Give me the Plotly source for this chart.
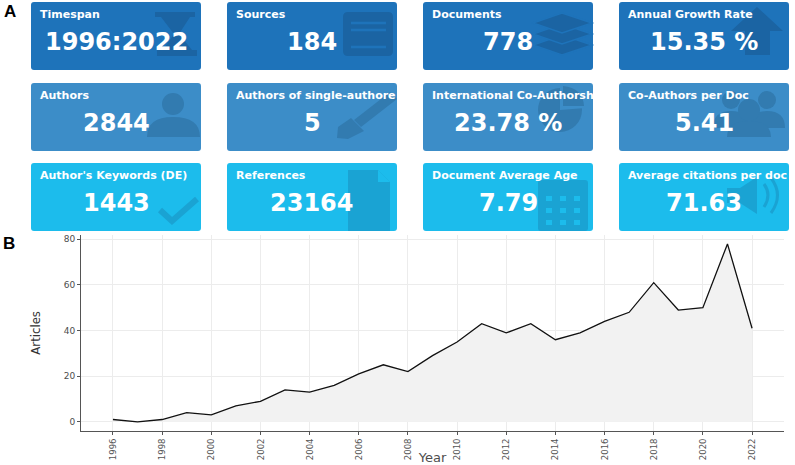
import plotly.graph_objects as go

# ---------------- data ----------------
card_titles = [
    "Timespan", "Sources", "Documents", "Annual Growth Rate",
    "Authors", "Authors of single-authore", "International Co-Authorsh", "Co-Authors per Doc",
    "Author's Keywords (DE)", "References", "Document Average Age", "Average citations per doc",
]
card_values = [
    "1996:2022", "184", "778", "15.35 %",
    "2844", "5", "23.78 %", "5.41",
    "1443", "23164", "7.79", "71.63",
]
years = list(range(1996, 2023))
articles = [1, 0, 1, 4, 3, 7, 9, 14, 13, 16, 21, 25, 22, 29, 35, 43, 39, 43, 36, 39, 44, 48, 61, 49, 50, 78, 41]
year_ticks = list(range(1996, 2023, 2))
article_ticks = [0, 20, 40, 60, 80]

# ---------------- layout helpers ----------------
W, H = 795, 465
def px(x):
    return x / W
def py(y):
    return 1 - y / H
def pt(x, y):
    return f"{px(x):.5f},{py(y):.5f}"
def poly(points):
    return "M" + " L".join(pt(x, y) for x, y in points) + " Z"

row_colors = ["#1e73ba", "#3c8dc8", "#1cbcec"]
icon_colors = ["#1b64a3", "#327bb0", "#1aa3d3"]
col_x = [31, 227, 423, 619]
row_y = [2, 83, 163]
card_w, card_h = 170, 68

shapes = []
annotations = []

def rounded(x0, y0, x1, y1, r=3):
    return ("M" + pt(x0 + r, y0) + " L" + pt(x1 - r, y0) + " Q" + pt(x1, y0) + " " + pt(x1, y0 + r)
            + " L" + pt(x1, y1 - r) + " Q" + pt(x1, y1) + " " + pt(x1 - r, y1)
            + " L" + pt(x0 + r, y1) + " Q" + pt(x0, y1) + " " + pt(x0, y1 - r)
            + " L" + pt(x0, y0 + r) + " Q" + pt(x0, y0) + " " + pt(x0 + r, y0) + " Z")

def add_path(path, color, line=None, lw=0):
    shapes.append(dict(type="path", xref="paper", yref="paper", path=path, fillcolor=color,
                       line=dict(color=line if line else color, width=lw), layer="below"))

def add_circle(cx, cy, r, color):
    shapes.append(dict(type="circle", xref="paper", yref="paper",
                       x0=px(cx - r), x1=px(cx + r), y0=py(cy + r), y1=py(cy - r),
                       fillcolor=color, line=dict(width=0), layer="below"))

def add_line_path(points, color, width):
    shapes.append(dict(type="path", xref="paper", yref="paper",
                       path="M" + " L".join(pt(x, y) for x, y in points),
                       line=dict(color=color, width=width), layer="below"))

# cards
for i in range(12):
    r, c = divmod(i, 4)
    x0, y0 = col_x[c], row_y[r]
    add_path(rounded(x0, y0, x0 + card_w, y0 + card_h), row_colors[r])

# icons (decorative)
ic = icon_colors
# hourglass
add_path(poly([(155, 12), (195, 12), (195, 17), (190, 17), (179, 34), (192, 50), (197, 50), (197, 56),
               (157, 56), (157, 50), (163, 50), (174, 34), (161, 17), (155, 17)]), ic[0])
# document
add_path(rounded(343, 12, 393, 56, 5), ic[0])
for yy in (23, 30, 47):
    add_line_path([(351, yy), (386, yy)], row_colors[0], 2.5)
# layers
for cy in (45, 34, 23):
    add_path(poly([(533, cy), (562, cy - 10), (592, cy), (562, cy + 10)]), ic[0], row_colors[0], 1.5)
# arrow
add_path(poly([(731, 31), (757, 7), (783, 31), (770, 31), (770, 55), (745, 55), (745, 31)]), ic[0])
# person
add_circle(173, 104, 11, ic[1])
add_path("M" + pt(147, 137) + " Q" + pt(147, 117) + " " + pt(173, 117) + " Q" + pt(200, 117) + " " + pt(200, 137) + " Z", ic[1])
# pen
add_path(poly([(397, 99), (390, 92), (354, 120), (361, 127)]), ic[1])
add_path(poly([(351, 118), (364, 131), (348, 139), (337, 138), (338, 127)]), ic[1])
# pie
add_circle(560, 110, 22, ic[1])
add_path(poly([(560, 110), (560, 86), (585, 86), (585, 108)]), row_colors[1])
add_path("M" + pt(563, 106) + " L" + pt(563, 86) + " Q" + pt(583, 88) + " " + pt(584, 106) + " Z", ic[1])
# people
add_circle(731, 100, 9, ic[1])
add_circle(767, 100, 9, ic[1])
add_path("M" + pt(713, 128) + " Q" + pt(713, 111) + " " + pt(731, 111) + " Q" + pt(749, 111) + " " + pt(749, 128) + " Z", ic[1])
add_path("M" + pt(749, 128) + " Q" + pt(749, 111) + " " + pt(767, 111) + " Q" + pt(785, 111) + " " + pt(785, 128) + " Z", ic[1])
add_circle(749, 110, 11, ic[1])
add_path("M" + pt(727, 137) + " Q" + pt(727, 121) + " " + pt(749, 121) + " Q" + pt(771, 121) + " " + pt(771, 137) + " Z", ic[1])
# check mark
add_line_path([(160, 210), (172, 221), (197, 199)], ic[2], 6)
# file
add_path(poly([(348, 170), (378, 170), (390, 182), (390, 231), (348, 231)]), ic[2])
add_path(poly([(378, 170), (390, 182), (378, 182)]), row_colors[2])
# calendar
add_path(rounded(538, 180, 588, 231, 3), ic[2])
for yy in (196, 208, 220):
    for xx in (546, 560, 574):
        add_path(poly([(xx, yy), (xx + 6, yy), (xx + 6, yy + 5), (xx, yy + 5)]), row_colors[2])
# speaker
add_path(poly([(727, 188), (740, 188), (757, 177), (757, 214), (740, 203), (727, 203)]), ic[2])
shapes.append(dict(type="path", xref="paper", yref="paper",
                   path="M" + pt(764, 184) + " Q" + pt(772, 195) + " " + pt(764, 207),
                   line=dict(color=ic[2], width=3), layer="below"))
shapes.append(dict(type="path", xref="paper", yref="paper",
                   path="M" + pt(771, 178) + " Q" + pt(784, 195) + " " + pt(771, 213),
                   line=dict(color=ic[2], width=3), layer="below"))

# card texts
for i in range(12):
    r, c = divmod(i, 4)
    x0, y0 = col_x[c], row_y[r]
    annotations.append(dict(xref="paper", yref="paper", x=px(x0 + 7), y=py(y0 + 12.5),
                            xanchor="left", yanchor="middle", showarrow=False, text=card_titles[i],
                            font=dict(family="DejaVu Sans", size=11, color="white", weight="bold")))
    annotations.append(dict(xref="paper", yref="paper", x=px(x0 + card_w / 2), y=py(y0 + 40),
                            xanchor="center", yanchor="middle", showarrow=False, text=card_values[i],
                            font=dict(family="DejaVu Sans", size=24, color="white", weight="bold")))

# panel letters
annotations.append(dict(xref="paper", yref="paper", x=px(2), y=py(12), xanchor="left", yanchor="middle",
                        showarrow=False, text="A",
                        font=dict(family="Liberation Sans", size=17, color="black", weight="bold")))
annotations.append(dict(xref="paper", yref="paper", x=px(1), y=py(243), xanchor="left", yanchor="middle",
                        showarrow=False, text="B",
                        font=dict(family="Liberation Sans", size=17, color="black", weight="bold")))

# ---------------- figure ----------------
fig = go.Figure()
fig.add_trace(go.Scatter(x=years, y=articles, mode="lines", fill="tozeroy",
                         fillcolor="#f2f2f2", line=dict(color="#111111", width=1.3),
                         showlegend=False, hoverinfo="x+y"))

narrow = "DejaVu Sans Condensed, Liberation Sans Narrow, Roboto, sans-serif"
axis_line = "#555555"
fig.update_layout(
    width=W, height=H,
    margin=dict(l=0, r=0, t=0, b=0),
    paper_bgcolor="white", plot_bgcolor="white",
    shapes=shapes, annotations=annotations,
    xaxis=dict(domain=[px(81), px(784)], range=[1994.7, 2023.3],
               tickmode="array", tickvals=year_ticks, ticktext=[str(y) for y in year_ticks],
               tickangle=-90, ticks="outside", ticklen=3, tickcolor=axis_line,
               showline=True, linecolor=axis_line, linewidth=1,
               showgrid=True, gridcolor="#ececec", gridwidth=0.6, zeroline=False,
               tickfont=dict(family=narrow, size=9.5, color="#555555"),
               title=dict(text="Year", standoff=2,
                          font=dict(family="DejaVu Sans", size=13, color="#4d4d4d")),
               automargin=False),
    yaxis=dict(domain=[py(430.7), py(235)], range=[-3.9, 81.9],
               tickmode="array", tickvals=article_ticks, ticks="outside", ticklen=3, tickcolor=axis_line,
               showline=True, linecolor=axis_line, linewidth=1,
               showgrid=True, gridcolor="#ececec", gridwidth=0.6, zeroline=False,
               tickfont=dict(family="DejaVu Sans", size=9, color="#4d4d4d"),
               title=dict(text="Articles", standoff=20,
                          font=dict(family=narrow, size=13, color="#333333")),
               automargin=False),
)

fig.write_html("out.html", config={"displayModeBar": False},
               post_script="document.body.style.margin='0px';")
